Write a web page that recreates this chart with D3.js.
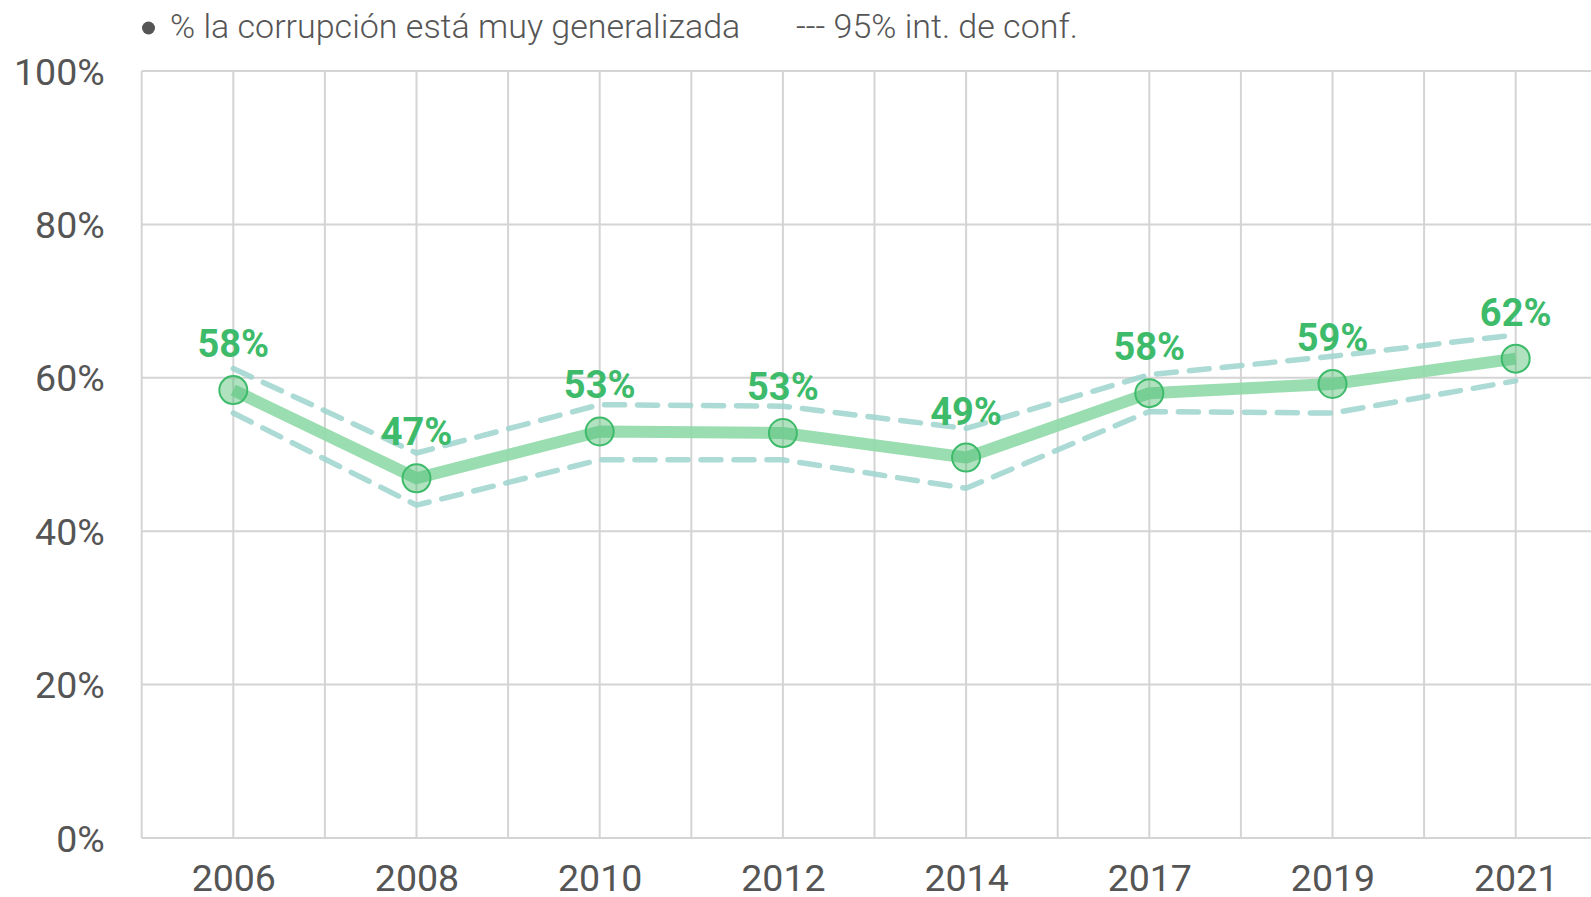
<!DOCTYPE html>
<meta charset="utf-8">
<style>
  body { margin: 0; background: #fff; }
  .grid line { stroke: #d4d4d4; stroke-width: 2; }
  .tick text { font-family: Roboto, sans-serif; font-size: 37.5px; fill: #555; }
  .legend { font-family: Roboto, sans-serif; font-weight: 300; font-size: 34px; fill: #555; }
  .lbl { font-family: Roboto, sans-serif; font-weight: 700; font-size: 38px; fill: #3dbb6a; }
</style>
<body>
<script src="https://cdnjs.cloudflare.com/ajax/libs/d3/7.8.5/d3.min.js"></script>
<script>
var years = ["2006", "2008", "2010", "2012", "2014", "2017", "2019", "2021"];
var values = [58.4, 46.9, 53.0, 52.8, 49.6, 58.0, 59.2, 62.5];
var upper = [61.2, 50.2, 56.5, 56.3, 53.4, 60.4, 62.8, 65.6];
var lower = [55.4, 43.4, 49.3, 49.3, 45.6, 55.6, 55.4, 59.6];
var labels = ["58%", "47%", "53%", "53%", "49%", "58%", "59%", "62%"];
var yTicks = [0, 20, 40, 60, 80, 100];

var width = 1591, height = 897;
var plotLeft = 141.7, plotTop = 71, plotBottom = 838;
var step = 183.2;

var svg = d3.select("body").append("svg")
    .attr("width", width)
    .attr("height", height);

// half step padding on both sides, right side runs past the window
var x = d3.scalePoint()
    .domain(years)
    .range([plotLeft, plotLeft + step * years.length])
    .padding(0.5);

var y = d3.scaleLinear()
    .domain([0, 100])
    .range([plotBottom, plotTop]);

// grid: vertical lines at each year and halfway between
var grid = svg.append("g").attr("class", "grid");
var xs = [];
years.forEach(function(d) { xs.push(x(d) - step / 2); xs.push(x(d)); });
xs.push(x(years[years.length - 1]) + step / 2);
grid.selectAll(".v").data(xs).enter().append("line")
    .attr("class", "v")
    .attr("x1", d => d).attr("x2", d => d)
    .attr("y1", plotTop).attr("y2", plotBottom);
grid.selectAll(".h").data(yTicks).enter().append("line")
    .attr("class", "h")
    .attr("x1", plotLeft).attr("x2", width + 40)
    .attr("y1", d => y(d)).attr("y2", d => y(d));

// axes (labels only)
var yAxis = svg.append("g")
    .attr("transform", "translate(" + plotLeft + ",0)")
    .call(d3.axisLeft(y).tickValues(yTicks).tickFormat(d => d + "%").tickSize(0).tickPadding(37));
yAxis.select(".domain").remove();
yAxis.selectAll("text").attr("dy", "0.35em");

var xAxis = svg.append("g")
    .attr("transform", "translate(0," + plotBottom + ")")
    .call(d3.axisBottom(x).tickSize(0).tickPadding(26));
xAxis.select(".domain").remove();

// confidence interval
var line = d3.line()
    .x((d, i) => x(years[i]))
    .y(d => y(d));

[upper, lower].forEach(function(s) {
  svg.append("path")
      .datum(s)
      .attr("d", line)
      .attr("fill", "none")
      .attr("stroke", "#9dd3cc")
      .attr("stroke-opacity", 0.85)
      .attr("stroke-width", 5.5)
      .attr("stroke-dasharray", "20,13")
      .attr("stroke-linecap", "round");
});

// main line
svg.append("path")
    .datum(values)
    .attr("d", line)
    .attr("fill", "none")
    .attr("stroke", "#8fd9a8")
    .attr("stroke-opacity", 0.9)
    .attr("stroke-width", 12)
    .attr("stroke-linejoin", "round");

svg.selectAll(".pt").data(values).enter().append("circle")
    .attr("class", "pt")
    .attr("cx", (d, i) => x(years[i]))
    .attr("cy", d => y(d))
    .attr("r", 14)
    .attr("fill", "rgba(80,190,115,0.45)")
    .attr("stroke", "#3dbb6a")
    .attr("stroke-width", 2);

svg.selectAll(".lbl").data(values).enter().append("text")
    .attr("class", "lbl")
    .attr("x", (d, i) => x(years[i]))
    .attr("y", d => y(d) - 33)
    .attr("text-anchor", "middle")
    .text((d, i) => labels[i]);

// legend
svg.append("circle")
    .attr("cx", 148.5).attr("cy", 28).attr("r", 6.5)
    .attr("fill", "#555");
svg.append("text")
    .attr("class", "legend")
    .attr("x", 170).attr("y", 38)
    .text("% la corrupción está muy generalizada");
svg.append("text")
    .attr("class", "legend")
    .attr("x", 796).attr("y", 38)
    .text("--- 95% int. de conf.");
</script>
</body>
</html>
